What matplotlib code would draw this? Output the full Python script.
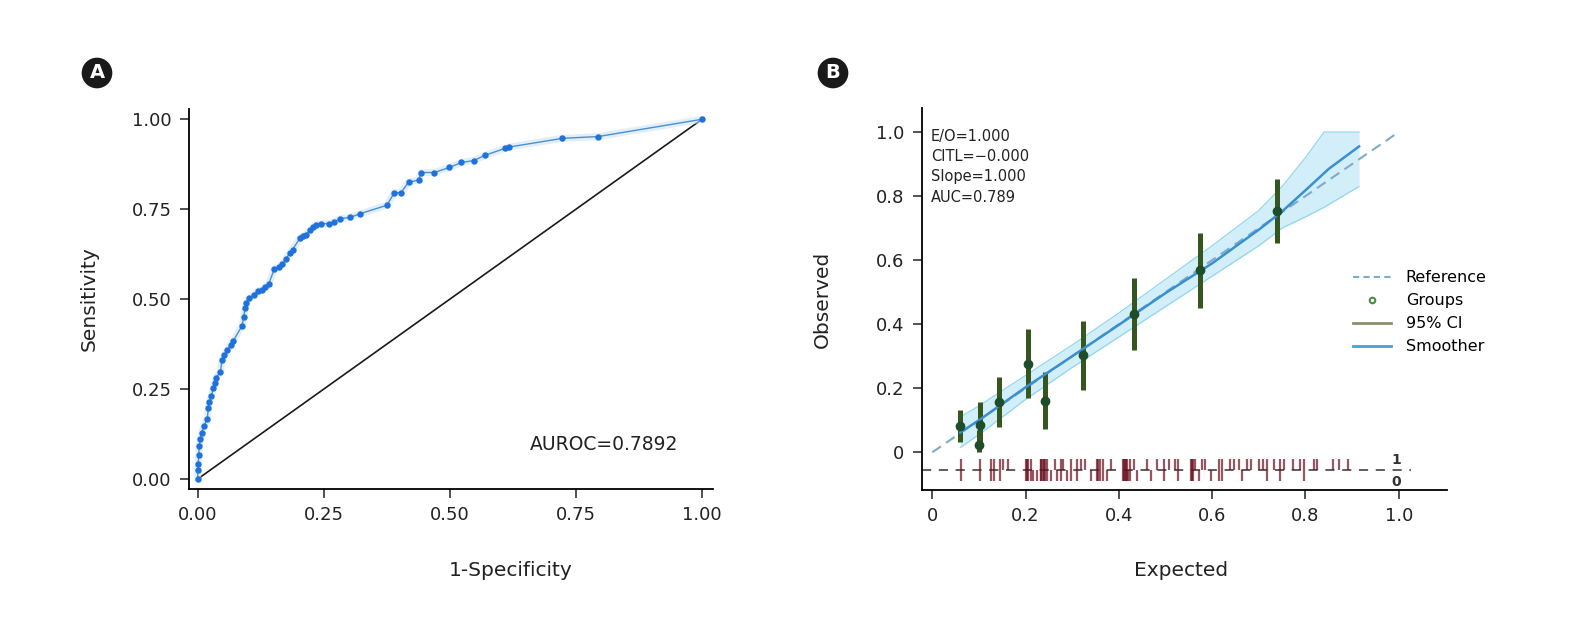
import matplotlib
matplotlib.use('Agg')
import matplotlib.pyplot as plt
from matplotlib.lines import Line2D

plt.rcParams['font.family'] = ['DejaVu Sans']

# ---- panel A : ROC ----
roc_fpr = [0.000, 0.000, 0.001, 0.002, 0.003, 0.005, 0.008, 0.012, 0.019, 0.021,
           0.023, 0.027, 0.031, 0.034, 0.036, 0.045, 0.048, 0.053, 0.059, 0.065,
           0.070, 0.088, 0.091, 0.094, 0.096, 0.102, 0.111, 0.119, 0.128, 0.134,
           0.141, 0.152, 0.162, 0.168, 0.175, 0.182, 0.188, 0.203, 0.208, 0.214,
           0.223, 0.229, 0.235, 0.244, 0.261, 0.271, 0.283, 0.302, 0.321, 0.375,
           0.390, 0.403, 0.418, 0.438, 0.443, 0.469, 0.499, 0.523, 0.547, 0.570,
           0.609, 0.618, 0.723, 0.794, 1.000]
roc_tpr = [0.000, 0.024, 0.043, 0.067, 0.091, 0.110, 0.129, 0.148, 0.167, 0.196,
           0.215, 0.230, 0.254, 0.268, 0.282, 0.297, 0.330, 0.344, 0.359, 0.373,
           0.383, 0.426, 0.450, 0.474, 0.488, 0.502, 0.512, 0.522, 0.526, 0.533,
           0.543, 0.584, 0.589, 0.598, 0.612, 0.627, 0.638, 0.670, 0.675, 0.679,
           0.692, 0.701, 0.705, 0.710, 0.710, 0.715, 0.724, 0.727, 0.737, 0.761,
           0.796, 0.796, 0.825, 0.831, 0.852, 0.852, 0.866, 0.880, 0.885, 0.900,
           0.919, 0.923, 0.947, 0.952, 1.000]
auroc_text = 'AUROC=0.7892'
roc_ticks = [0, 0.25, 0.5, 0.75, 1.0]
roc_ticklabels = ['0.00', '0.25', '0.50', '0.75', '1.00']

# ---- panel B : calibration ----
grp_exp = [0.060, 0.102, 0.100, 0.143, 0.206, 0.242, 0.324, 0.432, 0.574, 0.739]
grp_obs = [0.081, 0.086, 0.022, 0.158, 0.277, 0.161, 0.304, 0.431, 0.569, 0.753]
grp_lo = [0.031, 0.030, 0.000, 0.080, 0.169, 0.072, 0.194, 0.318, 0.451, 0.653]
grp_hi = [0.133, 0.156, 0.070, 0.234, 0.384, 0.250, 0.409, 0.544, 0.684, 0.853]

smooth_x = [0.06, 0.10, 0.20, 0.30, 0.40, 0.50, 0.60, 0.70, 0.75, 0.80, 0.85, 0.915]
smooth_y = [0.062, 0.100, 0.203, 0.300, 0.398, 0.497, 0.590, 0.695, 0.752, 0.818, 0.885, 0.955]
band_x = [0.06, 0.10, 0.20, 0.30, 0.40, 0.50, 0.60, 0.70, 0.75, 0.80, 0.84, 0.915]
band_lo = [0.015, 0.055, 0.165, 0.265, 0.360, 0.455, 0.550, 0.645, 0.700, 0.735, 0.765, 0.830]
band_hi = [0.110, 0.145, 0.240, 0.335, 0.435, 0.540, 0.645, 0.755, 0.830, 0.920, 1.000, 1.000]

rug_events = [0.0608, 0.1023, 0.1251, 0.1330, 0.1452, 0.1523, 0.1630, 0.2009, 0.2030,
              0.2059, 0.2109, 0.2324, 0.2340, 0.2366, 0.2390, 0.2409, 0.2452, 0.2631,
              0.2752, 0.2809, 0.2967, 0.3110, 0.3181, 0.3281, 0.3538, 0.3560, 0.3596,
              0.3653, 0.3824, 0.4082, 0.4100, 0.4132, 0.4160, 0.4182, 0.4239, 0.4325,
              0.4610, 0.4825, 0.4968, 0.5068, 0.5211, 0.5268, 0.5540, 0.5560, 0.5597,
              0.5640, 0.5783, 0.5854, 0.6154, 0.6211, 0.6383, 0.6469, 0.6569, 0.6755,
              0.6826, 0.6998, 0.7098, 0.7183, 0.7327, 0.7455, 0.7541, 0.7741, 0.7884,
              0.7970, 0.8184, 0.8241, 0.8598, 0.8727, 0.8920]
rug_nonevents = [0.0608, 0.1023, 0.1251, 0.1330, 0.1452, 0.2009, 0.2030, 0.2059, 0.2109,
                 0.2166, 0.2238, 0.2324, 0.2340, 0.2366, 0.2390, 0.2409, 0.2452, 0.2538,
                 0.2681, 0.2752, 0.2895, 0.2967, 0.3110, 0.3396, 0.3538, 0.3560, 0.3596,
                 0.3653, 0.3753, 0.4082, 0.4100, 0.4132, 0.4160, 0.4182, 0.4200, 0.4239,
                 0.4396, 0.4682, 0.4968, 0.5268, 0.5540, 0.5560, 0.5597, 0.5725, 0.5968,
                 0.6154, 0.6211, 0.6641, 0.7183, 0.7455, 0.7970]
stats_lines = ['E/O=1.000', 'CITL=\u22120.000', 'Slope=1.000', 'AUC=0.789']
cal_ticks = [0, 0.2, 0.4, 0.6, 0.8, 1.0]
cal_ticklabels = ['0', '0.2', '0.4', '0.6', '0.8', '1.0']

W, H = 1590, 623
fig = plt.figure(figsize=(W / 100, H / 100), dpi=100)


def px_axes(l, r, b, t):
    return fig.add_axes([l / W, 1 - b / H, (r - l) / W, (b - t) / H])


def style(ax):
    for s in ['top', 'right']:
        ax.spines[s].set_visible(False)
    for s in ['left', 'bottom']:
        ax.spines[s].set_linewidth(1.3)
    ax.tick_params(length=6.5, width=1.1, labelsize=13, pad=6, colors='#222222')


# ---------------- A ----------------
axA = px_axes(189, 713, 489, 109)
style(axA)
axA.set_xlim(-0.0173, 1.0218)
axA.set_ylim(-0.0278, 1.0286)
axA.plot([0, 1], [0, 1], color='#1a1a1a', lw=1.2)
axA.plot(roc_fpr, roc_tpr, color='#cfe3f5', lw=5, alpha=0.6, solid_capstyle='round')
axA.plot(roc_fpr, roc_tpr, color='#4a8fd0', lw=1.0)
axA.plot(roc_fpr, roc_tpr, ls='none', marker='o', ms=4.6, color='#1f72dc', mec='none')
axA.text(0.659, 0.097, auroc_text, fontsize=13.5, va='center', ha='left', color='#222222')
axA.set_xticks(roc_ticks)
axA.set_xticklabels(roc_ticklabels)
axA.set_yticks(roc_ticks)
axA.set_yticklabels(roc_ticklabels)
axA.set_xlabel('1-Specificity', fontsize=14.5, color='#222222')
axA.set_ylabel('Sensitivity', fontsize=14.5, color='#222222')
axA.xaxis.set_label_coords(0.613, -0.19)
axA.yaxis.set_label_coords(-0.172, 0.5)

# ---------------- B ----------------
axB = px_axes(921.7, 1447, 490, 108)
style(axB)
axB.set_xlim(-0.0227, 1.1035)
axB.set_ylim(-0.1177, 1.075)

axB.fill_between(band_x, band_lo, band_hi, color='#c4e9f6', alpha=0.75, lw=0)
axB.plot(band_x, band_lo, color='#93d6ee', lw=0.9)
axB.plot(band_x, band_hi, color='#93d6ee', lw=0.9)
axB.plot([0, 1], [0, 1], color='#80aacb', lw=1.5, dashes=(5, 3))
axB.vlines(grp_exp, grp_lo, grp_hi, color='#35561f', lw=3.6)
axB.plot(smooth_x, smooth_y, color='#3a8fd0', lw=1.8)
axB.plot(grp_exp, grp_obs, ls='none', marker='o', ms=6, color='#1d4d2a', mec='#1d4d2a')

# rug: events up, non-events down
rug_y = -0.055
axB.plot([-0.0227, 1.027], [rug_y, rug_y], color='#333333', lw=1.1, dashes=(6, 5))
axB.vlines(rug_events, rug_y, rug_y + 0.035, color='#6b1020', lw=1.6, alpha=0.7)
axB.vlines(rug_nonevents, rug_y - 0.035, rug_y, color='#6b1020', lw=1.6, alpha=0.7)
axB.text(0.994, -0.024, '1', fontsize=10, fontweight='bold', ha='center', va='center', color='#333333')
axB.text(0.994, -0.092, '0', fontsize=10, fontweight='bold', ha='center', va='center', color='#333333')

stat_y = [0.985, 0.923, 0.860, 0.797]
for txt, yy in zip(stats_lines, stat_y):
    axB.text(-0.003, yy, txt, fontsize=10.5, ha='left', va='center', color='#222222',
             family=['Liberation Sans Narrow', 'DejaVu Sans'])

axB.set_xticks(cal_ticks)
axB.set_xticklabels(cal_ticklabels)
axB.set_yticks(cal_ticks)
axB.set_yticklabels(cal_ticklabels)
axB.set_xlabel('Expected', fontsize=14.5, color='#222222')
axB.set_ylabel('Observed', fontsize=14.5, color='#222222')
axB.xaxis.set_label_coords(0.494, -0.185)
axB.yaxis.set_label_coords(-0.171, 0.5)

handles = [
    Line2D([], [], color='#80aacb', lw=1.5, dashes=(3, 2)),
    Line2D([], [], ls='none', marker='o', ms=4, mfc='none', mec='#4b8b4b', mew=1.5),
    Line2D([], [], color='#8c8f6c', lw=2),
    Line2D([], [], color='#4a9fd8', lw=2),
]
axB.legend(handles, ['Reference', 'Groups', '95% CI', 'Smoother'], loc='upper left',
           bbox_to_anchor=(0.821, 0.575), frameon=False, fontsize=11.5, borderpad=0,
           borderaxespad=0, handlelength=2.4, handletextpad=0.9, labelspacing=0.5)

# panel letters
for lx, letter in [(97, 'A'), (833, 'B')]:
    fig.text(lx / W, 1 - 73 / H, letter, ha='center', va='center', color='white',
             fontsize=14, fontweight='bold',
             bbox=dict(boxstyle='circle,pad=0.3', fc='#1a1a1a', ec='none'))

fig.savefig('out.png', dpi=100)
